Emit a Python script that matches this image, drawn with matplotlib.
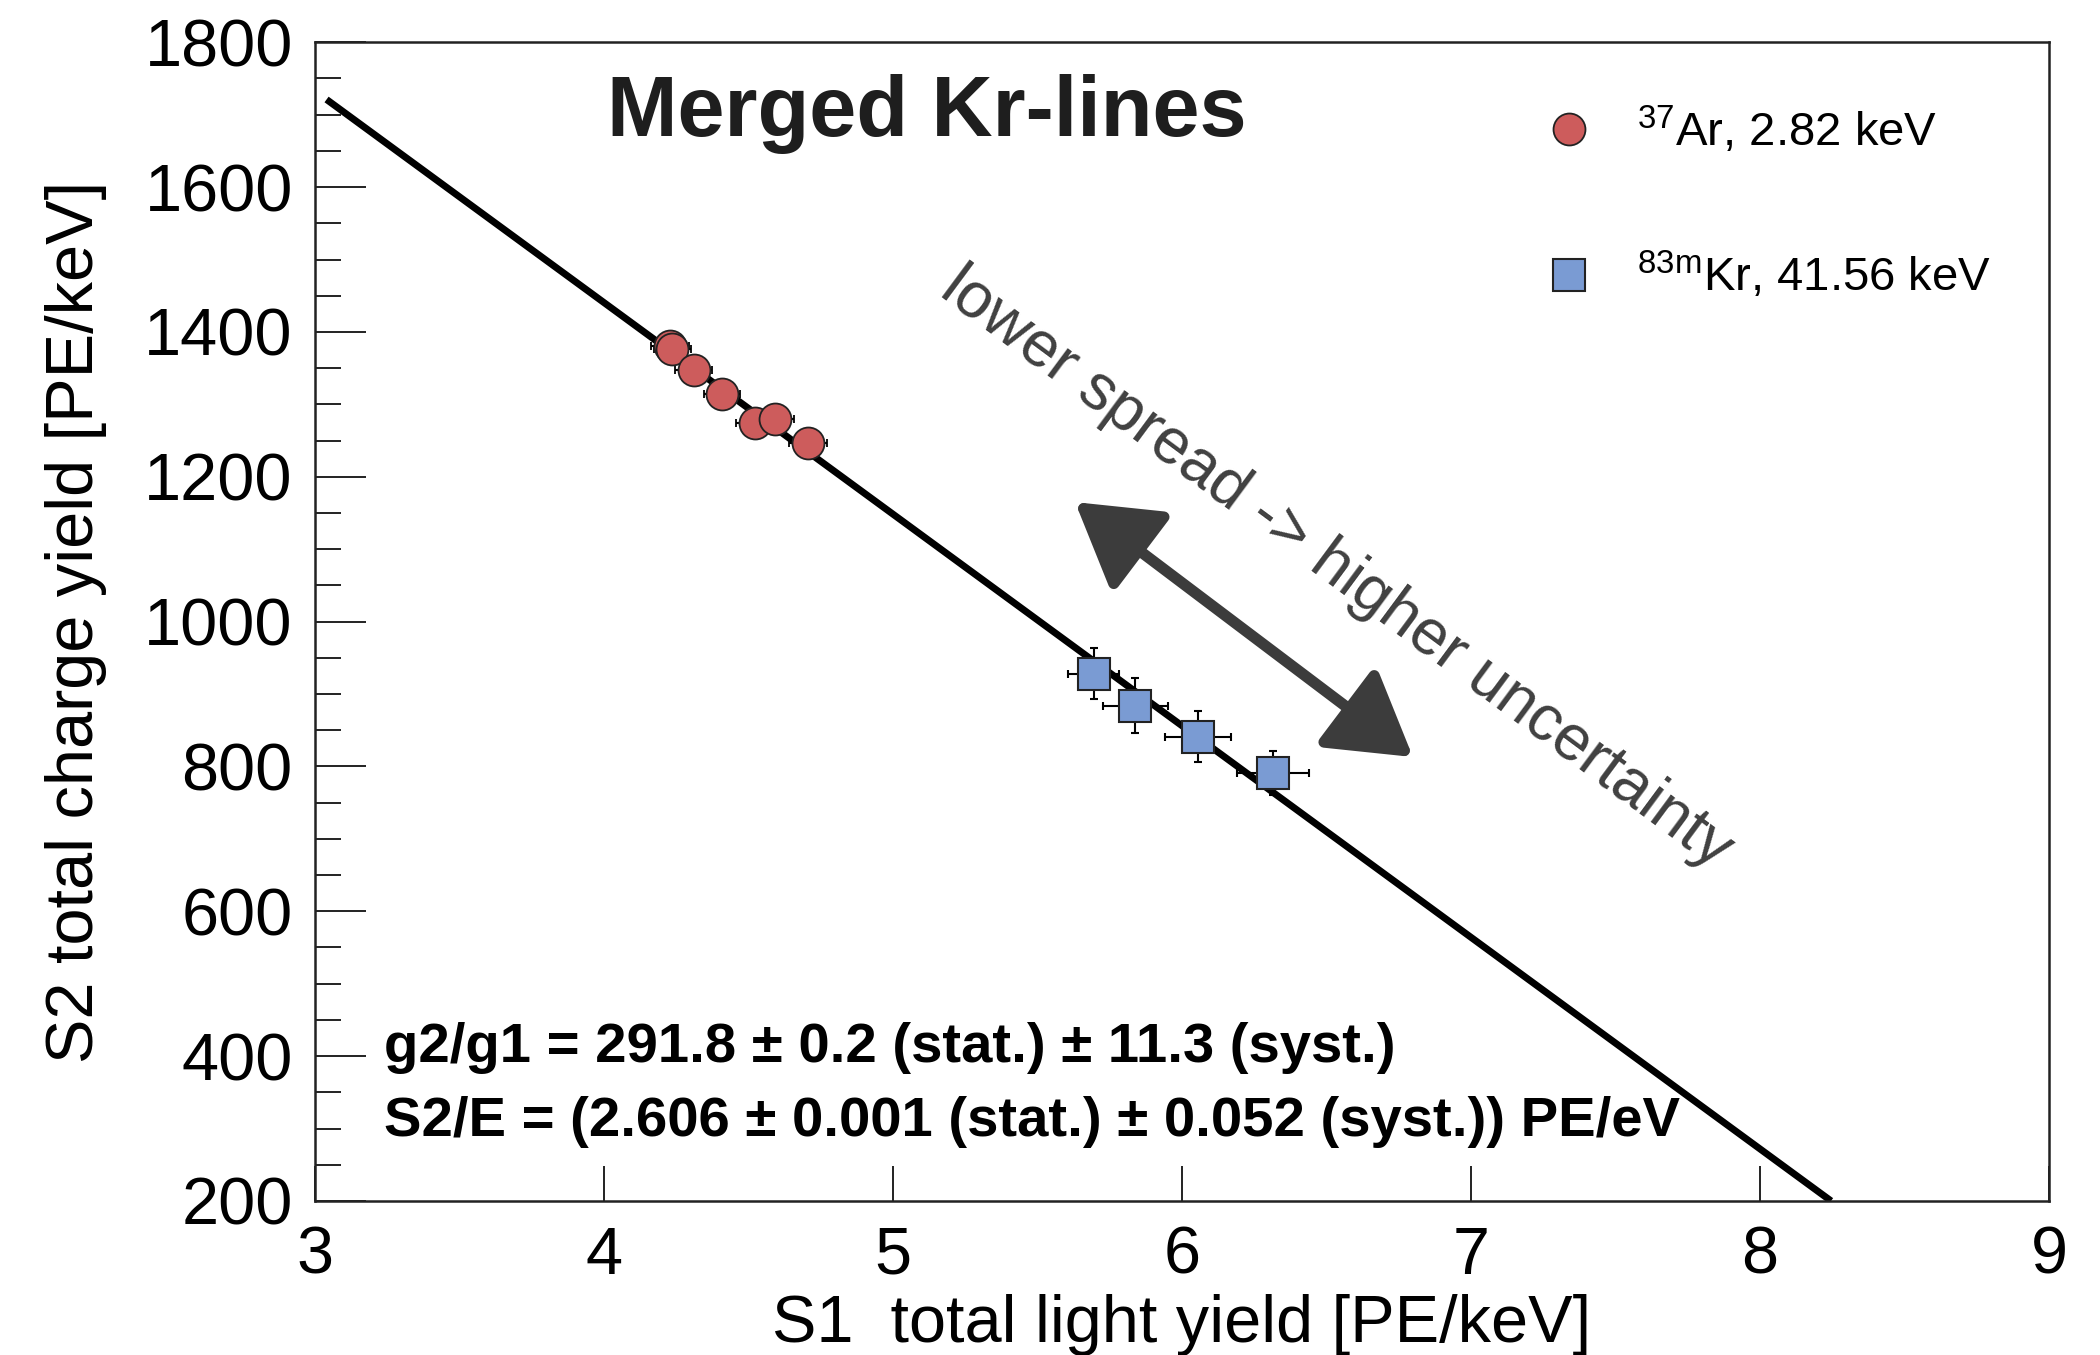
import matplotlib
matplotlib.use("Agg")
import matplotlib.pyplot as plt
from matplotlib.lines import Line2D
from matplotlib.ticker import MultipleLocator
import numpy as np

plt.rcParams["font.family"] = ["Liberation Sans", "DejaVu Sans"]
plt.rcParams["mathtext.fontset"] = "custom"
plt.rcParams["mathtext.rm"] = "Liberation Sans"
plt.rcParams["mathtext.default"] = "regular"

# 37Ar points (S1 light yield, S2 charge yield)
ar_x = [4.229, 4.237, 4.310, 4.408, 4.523, 4.591, 4.705]
ar_y = [1380, 1376, 1347, 1314, 1274, 1280, 1246]
ar_xerr = [0.065, 0.065, 0.065, 0.063, 0.065, 0.065, 0.066]
ar_yerr = [12, 12, 12, 12, 12, 12, 12]

# 83mKr points
kr_x = [5.694, 5.839, 6.056, 6.314]
kr_y = [928, 884, 841, 791]
kr_xerr = [0.087, 0.112, 0.115, 0.124]
kr_yerr = [35, 38, 35, 30]

# fitted line end points
line_x = [3.04, 8.246]
line_y = [1721, 200]

# arrow end points
arrow_start = (5.630, 1165)
arrow_end = (6.799, 813)

x_ticks = [3, 4, 5, 6, 7, 8, 9]
y_ticks = [200, 400, 600, 800, 1000, 1200, 1400, 1600, 1800]

red = "#cd5c5c"
blue = "#7a9bd3"

fig = plt.figure(figsize=(21, 13.55), dpi=100)
ax = fig.add_axes([0.150, 0.1137, 0.8257, 0.8551])

ax.plot(line_x, line_y, color="black", lw=5, solid_capstyle="butt", zorder=2)

ax.errorbar(ar_x, ar_y, xerr=ar_xerr, yerr=ar_yerr, fmt="o", ms=23,
            mfc=red, mec="#222222", mew=1.3, ecolor="black",
            elinewidth=1.5, capsize=3, capthick=1.5, zorder=3)
ax.errorbar(kr_x, kr_y, xerr=kr_xerr, yerr=kr_yerr, fmt="s", ms=23,
            mfc=blue, mec="#222222", mew=1.5, ecolor="black",
            elinewidth=1.5, capsize=3, capthick=1.5, zorder=3)

ax.set_xlim(3, 9)
ax.set_ylim(200, 1800)
ax.set_xticks(x_ticks)
ax.set_yticks(y_ticks)
ax.yaxis.set_minor_locator(MultipleLocator(50))
ax.tick_params(axis="both", which="both", direction="in", top=False, right=False,
               width=1.4, color="#222222", labelsize=48)
ax.tick_params(axis="x", which="major", length=25, pad=18)
ax.tick_params(axis="y", which="major", length=37, pad=16)
ax.tick_params(axis="y", which="minor", length=19)
for s in ax.spines.values():
    s.set_linewidth(1.8)
    s.set_color("#222222")

ax.set_xlabel("S1  total light yield [PE/keV]", fontsize=48)
ax.set_ylabel("S2 total charge yield [PE/keV]", fontsize=48)
ax.xaxis.set_label_coords(0.5, -0.080)
ax.yaxis.set_label_coords(-0.120, 0.5)

ax.text(0.353, 0.938, "Merged Kr-lines", transform=ax.transAxes,
        fontsize=61, fontweight="bold", color="#1e1e1e", ha="center", va="center")

ax.text(0.040, 0.132, "g2/g1 = 291.8 ± 0.2 (stat.) ± 11.3 (syst.)",
        transform=ax.transAxes, fontsize=40.5, fontweight="bold", va="center")
ax.text(0.040, 0.068, "S2/E = (2.606 ± 0.001 (stat.) ± 0.052 (syst.)) PE/eV",
        transform=ax.transAxes, fontsize=40.5, fontweight="bold", va="center")

ax.text(5.156, 1451, "lower spread -> higher uncertainty", fontsize=46,
        color="#404040", rotation=-36.5, rotation_mode="anchor",
        ha="left", va="baseline")

ax.annotate("", xy=arrow_start, xytext=arrow_end,
            arrowprops=dict(arrowstyle="<|-|>,head_length=0.83,head_width=0.5",
                            mutation_scale=60, color="#3c3c3c", lw=8,
                            shrinkA=0, shrinkB=0))

handles = [
    Line2D([], [], ls="none", marker="o", ms=23, mfc=red, mec="#222222", mew=1.3),
    Line2D([], [], ls="none", marker="s", ms=23, mfc=blue, mec="#222222", mew=1.5),
]
labels = [r"$^{37}$Ar, 2.82 keV", r"$^{83m}$Kr, 41.56 keV"]
ax.legend(handles, labels, loc="upper left", bbox_to_anchor=(0.7096, 0.946),
          frameon=False, fontsize=34, handlelength=1.0, handletextpad=0.93,
          labelspacing=2.0, borderpad=0, borderaxespad=0)

fig.savefig("out.png", dpi=100)
